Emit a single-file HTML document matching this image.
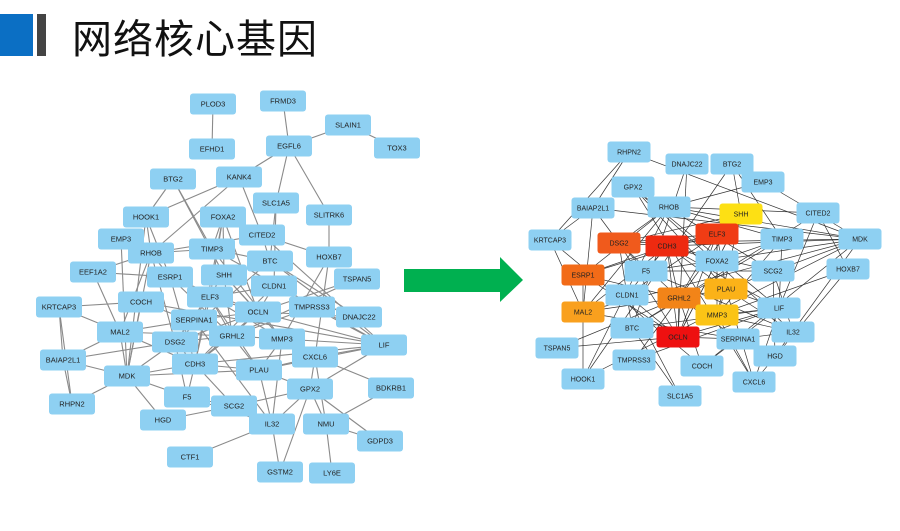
<!DOCTYPE html>
<html><head><meta charset="utf-8"><style>
html,body{margin:0;padding:0;background:#fff;width:900px;height:531px;overflow:hidden}
.t{position:absolute;left:72px;top:7px;font:40px "Liberation Sans","Noto Sans CJK SC",sans-serif;color:#111;letter-spacing:1px}
svg{position:absolute;left:0;top:0}
</style></head><body>
<div style="position:absolute;left:0;top:14px;width:33px;height:42px;background:#0b6fc4"></div>
<div style="position:absolute;left:37px;top:14px;width:9px;height:42px;background:#444"></div>
<div class="t">网络核心基因</div>
<svg id="s" width="900" height="531" xmlns="http://www.w3.org/2000/svg">
<polygon points="404,269 500,269 500,257 523,280 500,302 500,292 404,292" fill="#00b050"/>
</svg>
<script>
var L={PLOD3:[213,104],FRMD3:[283,101],SLAIN1:[348,125],EFHD1:[212,149],EGFL6:[289,146],TOX3:[397,148],BTG2:[173,179],KANK4:[239,177],SLC1A5:[276,203],HOOK1:[146,217],FOXA2:[223,217],SLITRK6:[329,215],CITED2:[262,235],EMP3:[121,239],RHOB:[151,253],TIMP3:[212,249],HOXB7:[329,257],BTC:[270,261],EEF1A2:[93,272],ESRP1:[170,277],SHH:[224,275],CLDN1:[274,286],TSPAN5:[357,279],ELF3:[210,297],KRTCAP3:[59,307],COCH:[141,302],OCLN:[258,312],TMPRSS3:[312,307],DNAJC22:[359,317],SERPINA1:[194,320],MAL2:[120,332],GRHL2:[232,336],MMP3:[282,339],LIF:[384,345],DSG2:[175,342],BAIAP2L1:[63,360],CDH3:[195,364],PLAU:[259,370],CXCL6:[315,357],MDK:[127,376],BDKRB1:[391,388],GPX2:[310,389],F5:[187,397],RHPN2:[72,404],SCG2:[234,406],HGD:[163,420],IL32:[272,424],NMU:[326,424],GDPD3:[380,441],CTF1:[190,457],GSTM2:[280,472],LY6E:[332,473]};
var R={RHPN2:[629,152],DNAJC22:[687,164],BTG2:[732,164],EMP3:[763,182],GPX2:[633,187],BAIAP2L1:[593,208],RHOB:[669,207],SHH:[741,214,'#fde014'],CITED2:[818,213],KRTCAP3:[550,240],DSG2:[619,243,'#f05a1c'],CDH3:[667,246,'#ee2a10'],ELF3:[717,234,'#f03c14'],TIMP3:[782,239],MDK:[860,239],FOXA2:[717,261],ESRP1:[583,275,'#f26b18'],F5:[646,271],SCG2:[773,271],HOXB7:[848,269],CLDN1:[627,295],GRHL2:[679,298,'#f28418'],PLAU:[726,289,'#fbb218'],MAL2:[583,312,'#f9a01e'],MMP3:[717,315,'#fbc416'],LIF:[779,308],BTC:[632,328],OCLN:[678,337,'#ee1010'],SERPINA1:[738,339],IL32:[793,332],TSPAN5:[557,348],TMPRSS3:[634,360],COCH:[702,366],HGD:[775,356],HOOK1:[583,379],CXCL6:[754,382],SLC1A5:[680,396]};
var E="PLOD3-EFHD1 FRMD3-EGFL6 EGFL6-SLAIN1 SLAIN1-TOX3 EGFL6-KANK4 EGFL6-SLC1A5 EGFL6-SLITRK6 SLITRK6-HOXB7 KANK4-HOOK1 KANK4-RHOB KANK4-CITED2 BTG2-HOOK1 BTG2-TIMP3 BTG2-SHH HOOK1-RHOB HOOK1-ESRP1 EMP3-RHOB RHOB-TIMP3 RHOB-CITED2 RHOB-ESRP1 RHOB-MAL2 RHOB-MDK RHOB-DSG2 EEF1A2-RHOB EEF1A2-MAL2 EEF1A2-ESRP1 FOXA2-TIMP3 FOXA2-SHH FOXA2-ELF3 FOXA2-OCLN FOXA2-CDH3 CITED2-HOXB7 CITED2-BTC CITED2-LIF SLC1A5-BTC SLC1A5-CLDN1 TIMP3-LIF TIMP3-MMP3 TIMP3-BTC SHH-GRHL2 SHH-OCLN SHH-DSG2 ESRP1-GRHL2 ESRP1-CDH3 ESRP1-OCLN ESRP1-ELF3 BTC-LIF BTC-DNAJC22 BTC-DSG2 HOXB7-CXCL6 HOXB7-MMP3 TSPAN5-OCLN TSPAN5-GRHL2 CLDN1-OCLN CLDN1-ELF3 CLDN1-CDH3 KRTCAP3-COCH KRTCAP3-MAL2 KRTCAP3-BAIAP2L1 COCH-MDK COCH-GRHL2 COCH-LIF ELF3-OCLN ELF3-GRHL2 ELF3-CDH3 ELF3-DSG2 ELF3-MMP3 OCLN-GRHL2 OCLN-CDH3 OCLN-LIF OCLN-DNAJC22 OCLN-DSG2 TMPRSS3-GRHL2 TMPRSS3-LIF SERPINA1-GRHL2 SERPINA1-MAL2 SERPINA1-IL32 MAL2-GRHL2 MAL2-CDH3 MAL2-BAIAP2L1 MAL2-MDK GRHL2-CDH3 GRHL2-MMP3 GRHL2-PLAU GRHL2-DSG2 MMP3-LIF MMP3-PLAU MMP3-CXCL6 MMP3-IL32 LIF-CXCL6 LIF-GPX2 LIF-PLAU DSG2-CDH3 DSG2-MDK DSG2-BAIAP2L1 DSG2-F5 BAIAP2L1-RHPN2 BAIAP2L1-MDK CDH3-MDK CDH3-F5 CDH3-PLAU CDH3-SCG2 PLAU-GPX2 PLAU-IL32 PLAU-MDK PLAU-CXCL6 CXCL6-GPX2 CXCL6-NMU MDK-RHPN2 MDK-F5 BDKRB1-NMU BDKRB1-CXCL6 GPX2-IL32 GPX2-NMU GPX2-GSTM2 GPX2-GDPD3 GPX2-SCG2 F5-SCG2 F5-IL32 SCG2-HGD SCG2-IL32 IL32-CTF1 IL32-GSTM2 NMU-LY6E NMU-GDPD3 HGD-MDK RHPN2-KRTCAP3 EMP3-MDK HOOK1-MDK ELF3-PLAU SHH-MMP3 OCLN-SERPINA1 CDH3-LIF".split(' ');
var s=document.getElementById('s'),ns='http://www.w3.org/2000/svg';
function el(t,a,p){var e=document.createElementNS(ns,t);for(var k in a)e.setAttribute(k,a[k]);(p||s).appendChild(e);return e}
function draw(N,col,sw,w,h,fs){
 var g=el('g',{});
 E.forEach(function(p){var a=p.split('-'),A=N[a[0]],B=N[a[1]];if(A&&B)el('line',{x1:A[0],y1:A[1],x2:B[0],y2:B[1],stroke:col,'stroke-width':sw},g)});
 for(var k in N){var n=N[k];
  el('rect',{x:n[0]-w/2,y:n[1]-h/2,width:w,height:h,rx:3,fill:n[2]||'#8ed0f2'},g);
  var t=el('text',{x:n[0],y:n[1]+fs*0.36,'text-anchor':'middle','font-family':'Liberation Sans, sans-serif','font-size':fs,fill:'#222'},g);t.textContent=k;}
}
draw(L,'#8a8a8a',1.1,46,21,7.5);
draw(R,'#333',0.7,43,21,7);
</script>
</body></html>
